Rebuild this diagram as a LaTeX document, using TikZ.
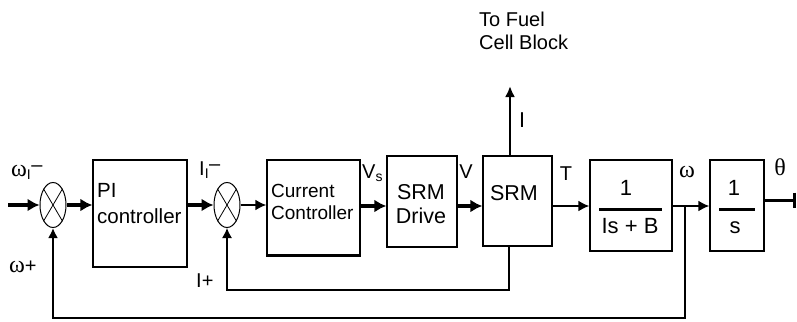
\documentclass[tikz,border=0pt]{standalone}
\usepackage{fontspec}
\setmainfont{Liberation Sans}
\newfontfamily\grk{Liberation Serif}
\usetikzlibrary{arrows.meta,shapes.geometric,calc}
\begin{document}
\begin{tikzpicture}[x=1pt,y=-1pt,
  box/.style={draw, line width=1.3pt, inner sep=0pt},
  sumj/.style={draw, ellipse, line width=1pt, minimum width=26pt, minimum height=45pt, inner sep=0pt},
  lbl/.style={font=\fontsize{20}{24}\selectfont, inner sep=0pt, anchor=base},
  lbll/.style={lbl, anchor=base west},
  txt/.style={font=\fontsize{20.5}{24}\selectfont, inner sep=0pt, anchor=base west},
  thk/.style={line width=3.5pt, -{Latex[length=12pt,width=13pt]}},
  med/.style={line width=2pt, -{Latex[length=11pt,width=11pt]}},
  fbk/.style={line width=1.3pt, -{Latex[length=10pt,width=10pt]}},
  bar/.style={line width=3pt},
  gk/.style={font=\grk\fontsize{24}{26}\selectfont}
]
\useasboundingbox (0,0) rectangle (797,321);

% blocks
\node[box, minimum width=94pt, minimum height=107pt] (pi) at (140,213.5) {};
\node[box, minimum width=93pt, minimum height=95pt] (cc) at (313.5,207.5) {};
\draw[line width=3pt] (cc.south west) -- (cc.south east);
\node[box, minimum width=70pt, minimum height=91pt] (drv) at (422,201.5) {};
\node[box, minimum width=69pt, minimum height=90pt] (srm) at (517.5,201) {};
\node[box, minimum width=82pt, minimum height=91pt] (g1) at (631,205.5) {};
\node[box, minimum width=54pt, minimum height=91pt] (g2) at (737,205.5) {};

% summing junctions
\node[sumj] (s1) at (53,205) {};
\draw[line width=0.8pt] (s1.north west) -- (s1.south east) (s1.north east) -- (s1.south west);
\node[sumj] (s2) at (227,205) {};
\draw[line width=0.8pt] (s2.north west) -- (s2.south east) (s2.north east) -- (s2.south west);

% block texts
\node[txt] (tpi1) at (97,197) {PI};
\node[txt] (tpi2) at (97,223) {controller};
\node[txt, font=\fontsize{19}{22}\selectfont] (tcc1) at (271,197) {Current};
\node[txt, font=\fontsize{19}{22}\selectfont] (tcc2) at (271,219) {Controller};
\node[lbl, font=\fontsize{21.5}{24}\selectfont] (tdr1) at (421,199) {SRM};
\node[lbl, font=\fontsize{21.5}{24}\selectfont] (tdr2) at (421,223) {Drive};
\node[lbl, font=\fontsize{21.5}{24}\selectfont] (tsrm) at (514,200) {SRM};
\node[lbl, font=\fontsize{22}{24}\selectfont] (g1n) at (626,195) {1};
\draw[line width=3pt] (599,209) -- (662,209);
\node[lbl, font=\fontsize{22}{24}\selectfont] (g1d) at (630,233) {Is + B};
\node[lbl, font=\fontsize{22}{24}\selectfont] (g2n) at (734,195) {1};
\draw[line width=3pt] (719,209) -- (755,209);
\node[lbl, font=\fontsize{22}{24}\selectfont] (g2d) at (735,233) {s};

% coordinates
\coordinate (in) at (8,205);
\coordinate (out) at (796,200);
\coordinate (fc) at (510,86);
\coordinate (tap) at (685,205.5);
\coordinate (fb1c) at (509,290);
\coordinate (fb2c) at (685,318);
\coordinate (ccd) at (cc.east |- 0,206);

% forward path
\draw[thk] (in) -- (s1.west);
\draw[thk] (s1.east) -- (s1.east -| pi.west);
\draw[thk] (s1.east -| pi.east) -- (s2.west);
\draw[med] (s2.east) -- (s2.east -| cc.west);
\draw[thk] (ccd) -- (ccd -| drv.west);
\draw[thk] (ccd -| drv.east) -- (ccd -| srm.west);
\draw[med] (ccd -| srm.east) -- (ccd -| g1.west);
\draw[med] (ccd -| g1.east) -- (ccd -| g2.west);
\draw[bar, -{Bar[width=15pt,line width=3pt]}] (g2.east |- out) -- (out);
\draw[line width=2.5pt, -{Latex[length=11pt,width=10pt]}] ([xshift=-7.5pt]srm.north) -- (fc);

% feedback paths
\draw[fbk] ([xshift=-8.5pt]srm.south) -- (fb1c) -| (s2.south);
\draw[line width=2pt, -{Latex[length=10pt,width=10pt]}] (tap |- ccd) -- (fb2c) -| (s1.south);

% signal labels
\node[lbll] (lwi) at (11,176) {{\grk\fontsize{24}{26}\selectfont ω}\textsubscript{I}\raisebox{0.4ex}{–}};
\node[lbll] (lwp) at (9,272) {{\grk\fontsize{24}{26}\selectfont ω}+};
\node[lbll] (lii) at (199,175) {I\textsubscript{I}\raisebox{0.4ex}{–}};
\node[lbll] (lip) at (196,287) {I+};
\node[lbll] (lvs) at (362,178) {V\textsubscript{s}};
\node[lbl] (lv) at (466,178) {V};
\node[lbl] (lt) at (566,180) {T};
\node[lbl, gk] (lw) at (687,177) {ω};
\node[lbl, gk] (lth) at (780,175) {θ};
\node[lbll, font=\fontsize{21.5}{24}\selectfont] (li) at (519,127) {I};
\node[lbll] (lfc1) at (479,27) {To Fuel};
\node[lbll] (lfc2) at (479,50) {Cell Block};
\end{tikzpicture}
\end{document}
